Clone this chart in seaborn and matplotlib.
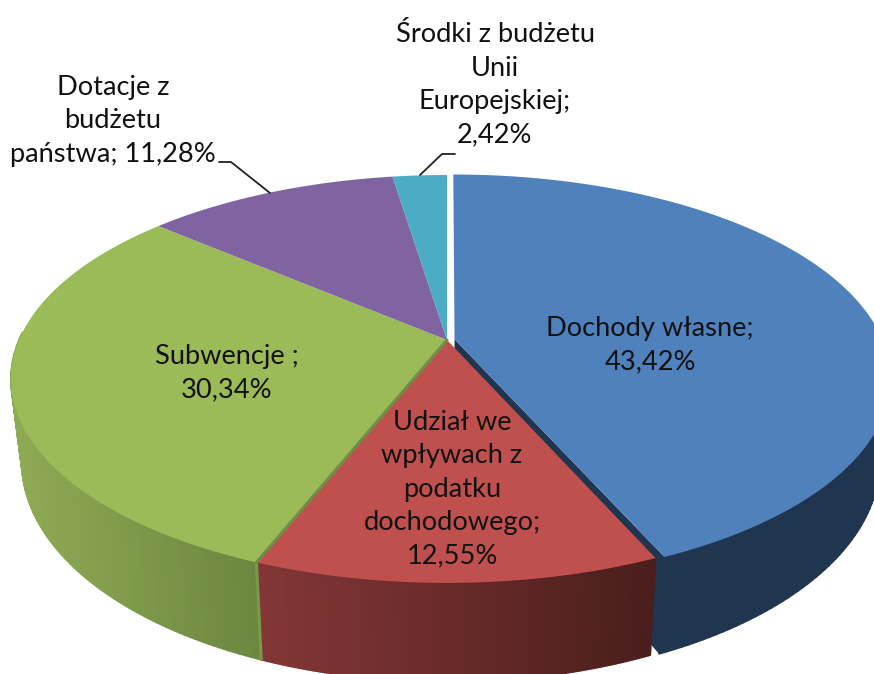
import numpy as np
import matplotlib
matplotlib.use("Agg")
import matplotlib.pyplot as plt
import seaborn as sns
from matplotlib.colors import to_rgb
from matplotlib.path import Path
from matplotlib.transforms import Transform
from matplotlib.collections import PolyCollection
from matplotlib.patches import Polygon

# data
names = ["Dochody własne;", "Udział we\nwpływach z\npodatku\ndochodowego;", "Subwencje ;",
         "Dotacje z\nbudżetu\npaństwa;", "Środki z budżetu\nUnii\nEuropejskiej;"]
shares = [43.42, 12.55, 30.34, 11.28, 2.42]
explode = [0.018, 0, 0, 0, 0]
top_colors = ["#4F81BD", "#C0504D", "#9BBB59", "#8064A2", "#4BACC6"]
wall_left = ["#1F3550", "#843636", "#8FAB55", "#5A4672", "#357A8C"]
wall_right = ["#1F3550", "#4A1E1C", "#6C873F", "#5A4672", "#357A8C"]

sns.set_theme(style="white")
plt.rcParams["font.family"] = ["Lato", "DejaVu Sans"]

CX, CY, AX, BY, K = 447.0, 340.0, 428.0, 196.5, 0.191
DEPTH, SHRINK = 80.0, 0.975


def project(xy, lower=False):
    xy = np.asarray(xy, float)
    d = 1 + K * xy[..., 1]
    sx = AX * xy[..., 0] / d
    sy = -BY * xy[..., 1] / d
    if lower:
        sx = sx * SHRINK
        sy = sy + DEPTH / d
    return np.stack([CX + sx, CY + sy], axis=-1)


class Perspective(Transform):
    input_dims = output_dims = 2

    def transform_non_affine(self, values):
        return project(values)

    def transform_path_non_affine(self, path):
        pts = []
        for seg, code in path.iter_bezier():
            if code == Path.CLOSEPOLY:
                continue
            if code == Path.MOVETO:
                pts.append(seg.control_points[0])
            else:
                pts.extend(seg(np.linspace(0, 1, 30))[1:])
        pts.append(pts[0])
        return Path(project(np.array(pts)), closed=True)


fig = plt.figure(figsize=(8.74, 6.74), dpi=100, facecolor="white")
ax = fig.add_axes([0, 0, 1, 1])
wedges, _ = ax.pie(shares, explode=explode, startangle=90, counterclock=False,
                   colors=sns.color_palette(top_colors), radius=1.0)
ax.set_aspect("auto")
ax.set_xlim(0, 874)
ax.set_ylim(674, 0)
ax.axis("off")

persp = Perspective() + ax.transData
for w in wedges:
    w.set_transform(persp)
    w.set_zorder(5)
    w.set_linewidth(0)
    w.set_clip_on(True)


def lerp(c0, c1, t):
    a, b = np.array(to_rgb(c0)), np.array(to_rgb(c1))
    return tuple(a + (b - a) * t)


def arc(w, n=160):
    th = np.radians(np.linspace(w.theta1, w.theta2, n))
    return np.column_stack([w.center[0] + w.r * np.cos(th), w.center[1] + w.r * np.sin(th)])


# walls, drawn behind the top faces
z = {0: 1, 1: 2, 2: 2}
blue = wedges[0]
blue_edge = arc(blue)
corner = blue_edge[np.argmin(blue_edge[:, 1])]
apex = np.array(blue.center)
ax.add_patch(Polygon([project(apex), project(corner), project(corner, True), project(apex, True)],
                     closed=True, fc=wall_left[0], ec="none", zorder=0.5))
for i, w in enumerate(wedges):
    pts = arc(w)
    pts = pts[pts[:, 1] < 0.05]
    if len(pts) < 2:
        continue
    up, lo = project(pts), project(pts, True)
    polys = [[up[j], up[j + 1], lo[j + 1], lo[j]] for j in range(len(pts) - 1)]
    xs = up[:-1, 0]
    rng = xs.max() - xs.min()
    cols = [lerp(wall_left[i], wall_right[i], (x - xs.min()) / rng) for x in xs]
    ax.add_collection(PolyCollection(polys, facecolors=cols, edgecolors=cols, linewidths=1.2,
                                     zorder=z.get(i, 1)))

# red face above the blue cut wall, blue face on top
wedges[0].set_zorder(6)

# seam between green and red
red = wedges[1]
seam = arc(red)
seam_pt = seam[np.argmin(seam[:, 0])]
ax.plot(*project(np.array([(0.0, 0.0), seam_pt])).T, color="#6F8F45", lw=2.2, zorder=5.5)
ax.plot(*np.array([project(seam_pt), project(seam_pt, True)]).T, color="#7A9A48", lw=2.2, zorder=3)

# labels
fs = 19.6
pct = [f"{v:.2f}".replace(".", ",") + "%" for v in shares]
txt = dict(ha="center", va="center", fontsize=fs, color="#111111", linespacing=1.42, zorder=10)
ax.text(650, 345, names[0] + "\n" + pct[0], **txt)
ax.text(452, 489, names[1] + "\n" + pct[1], **txt)
ax.text(227, 373, names[2] + "\n" + pct[2], **txt)
ax.text(113, 121, names[3].replace("państwa;", "państwa; " + pct[3]), **txt)
ax.text(495, 85, names[4] + "\n" + pct[4], **txt)

# leader lines
ax.plot([219, 231, 270], [162, 162, 193], color="#222222", lw=1.3, zorder=9)
ax.plot([455, 442, 420], [154, 154, 175], color="#222222", lw=1.3, zorder=9)

fig.savefig("out.png", dpi=100, facecolor="white")
